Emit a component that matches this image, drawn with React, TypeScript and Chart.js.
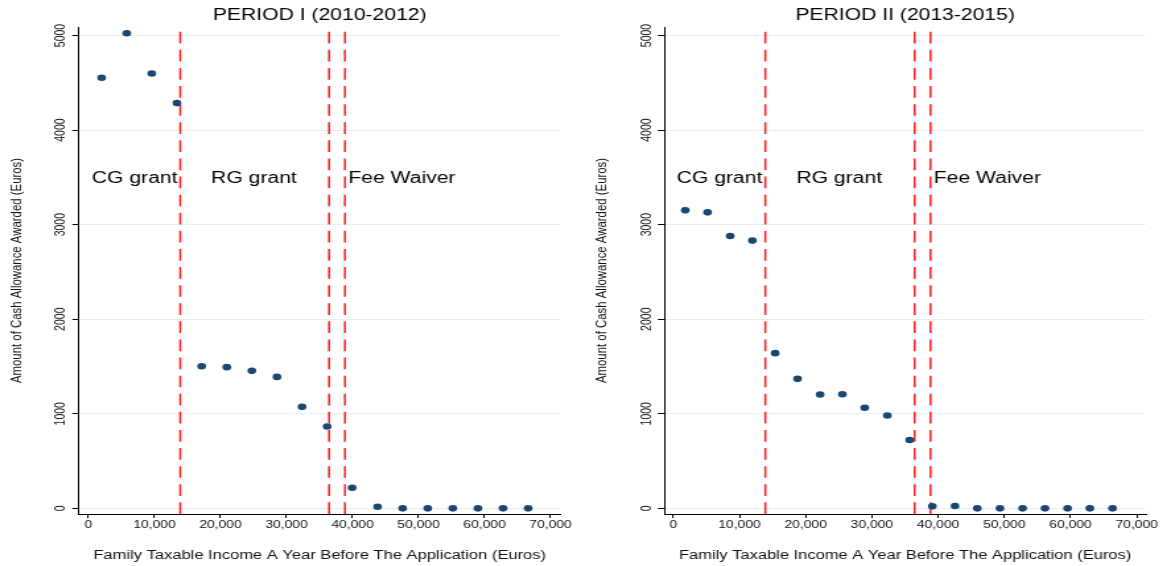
import React, { useEffect, useRef } from 'react';
import { Chart, registerables } from 'chart.js';

Chart.register(...registerables);

const FONT = "'Liberation Sans', Arial, Helvetica, sans-serif";

// ---------- data ----------
const period1Title = 'PERIOD I (2010-2012)';
const period1Income = [2000, 5800, 9600, 13400, 17150, 20950, 24750, 28550, 32350, 36150, 39950, 43800, 47600, 51400, 55200, 59000, 62800, 66600];
const period1Amount = [4553, 5024, 4598, 4285, 1503, 1493, 1454, 1390, 1073, 866, 218, 17, 0, 0, 0, 0, 0, 0];

const period2Title = 'PERIOD II (2013-2015)';
const period2Income = [1800, 5170, 8590, 11950, 15390, 18760, 22175, 25540, 28910, 32330, 35700, 39130, 42550, 45920, 49340, 52770, 56140, 59560, 62920, 66340];
const period2Amount = [3151, 3130, 2880, 2831, 1641, 1369, 1204, 1207, 1063, 982, 722, 21, 24, 0, 0, 0, 0, 0, 0, 0];

const thresholds = [13900, 36450, 38850];
const thresholdSpan = [5040, -60];

const regionLabels = ['CG grant', 'RG grant', 'Fee Waiver'];
const regionLabelX1 = [500, 18570, 39360];
const regionLabelX2 = [500, 18590, 39350];
const regionLabelY = 3489;

const yTicks = [0, 1000, 2000, 3000, 4000, 5000];
const xTicks = [0, 10000, 20000, 30000, 40000, 50000, 60000, 70000];

const xTitle = 'Family Taxable Income A Year Before The Application (Euros)';
const yTitle = 'Amount of Cash Allowance Awarded (Euros)';

// ---------- panel ----------
type PanelProps = {
  title: string;
  income: number[];
  amount: number[];
  labelX: number[];
  cssLeft: number;
  cssWidth: number;
  intWidth: number;
  yAxisWidth: number;
  padRight: number;
  xMin: number;
  xMax: number;
};

const regionTextPlugin = {
  id: 'regionText',
  afterDatasetsDraw(chart: any, _args: any, opts: any) {
    const { ctx, scales } = chart;
    ctx.save();
    ctx.font = `16px ${FONT}`;
    ctx.fillStyle = '#000';
    ctx.textAlign = 'left';
    ctx.textBaseline = 'middle';
    (opts.labels || []).forEach((t: string, i: number) => {
      const x = scales.x.getPixelForValue(opts.xs[i]);
      const y = scales.y.getPixelForValue(opts.y);
      ctx.fillText(t, x, y);
    });
    ctx.restore();
  },
};

function Panel(p: PanelProps) {
  const ref = useRef<HTMLCanvasElement | null>(null);
  useEffect(() => {
    if (!ref.current) return;
    const points = p.income.map((x, i) => ({ x, y: p.amount[i] }));
    const lineSets = thresholds.map((t) => ({
      type: 'scatter' as const,
      data: thresholdSpan.map((y) => ({ x: t, y })),
      showLine: true,
      borderColor: '#ff1a1a',
      borderWidth: 1.5,
      borderDash: [11.7, 6.4],
      pointRadius: 0,
      fill: false,
    }));
    const chart = new Chart(ref.current, {
      type: 'scatter',
      data: {
        datasets: [
          {
            data: points,
            backgroundColor: '#1a476f',
            borderColor: '#1a476f',
            borderWidth: 0,
            pointRadius: 3.3,
            pointHoverRadius: 3.3,
          },
          ...lineSets,
        ] as any,
      },
      options: {
        responsive: false,
        animation: false,
        devicePixelRatio: 1,
        events: [],
        layout: { padding: { left: 0, right: p.padRight, top: 0, bottom: 0 } },
        plugins: {
          legend: { display: false },
          tooltip: { enabled: false },
          title: {
            display: true,
            text: p.title,
            fullSize: false,
            color: '#000',
            font: { family: FONT, size: 16, weight: 'normal' },
            padding: { top: 6.2, bottom: 1.6 },
          },
          regionText: { labels: regionLabels, xs: p.labelX, y: regionLabelY },
        } as any,
        scales: {
          x: {
            type: 'linear',
            min: p.xMin,
            max: p.xMax,
            afterBuildTicks: (s: any) => {
              s.ticks = xTicks.map((v) => ({ value: v }));
            },
            afterFit: (s: any) => {
              s.height = 52;
            },
            grid: {
              drawOnChartArea: false,
              drawTicks: true,
              tickLength: 4,
              tickColor: '#000',
              color: '#000',
            },
            border: { display: true, color: '#000', width: 1 },
            ticks: {
              padding: 0.4,
              maxRotation: 0,
              autoSkip: false,
              color: '#111',
              font: { family: FONT, size: 10.5 },
              callback: (v: any) => Number(v).toLocaleString('en-US'),
            },
            title: {
              display: true,
              text: xTitle,
              color: '#111',
              font: { family: FONT, size: 12.5 },
              padding: { top: 0, bottom: 2.7 },
            },
          },
          y: {
            type: 'linear',
            min: -60,
            max: 5090,
            afterBuildTicks: (s: any) => {
              s.ticks = yTicks.map((v) => ({ value: v }));
            },
            afterFit: (s: any) => {
              s.width = p.yAxisWidth;
            },
            grid: {
              drawOnChartArea: true,
              drawTicks: true,
              tickLength: 5,
              color: '#e6eff1',
              tickColor: '#000',
              lineWidth: 1,
            },
            border: { display: true, color: '#000', width: 1 },
            ticks: {
              minRotation: 90,
              maxRotation: 90,
              crossAlign: 'center',
              padding: -3.3,
              autoSkip: false,
              color: '#111',
              font: { family: FONT, size: 10.5 },
              callback: (v: any) => String(v),
            },
            title: {
              display: true,
              text: yTitle,
              color: '#111',
              font: { family: FONT, size: 11.4 },
              padding: { top: 5.65, bottom: 0 },
            },
          },
        },
      } as any,
      plugins: [regionTextPlugin],
    });
    return () => chart.destroy();
  }, []);

  return (
    <canvas
      ref={ref}
      width={p.intWidth}
      height={566}
      style={{
        position: 'absolute',
        left: `${p.cssLeft}px`,
        top: 0,
        width: `${p.cssWidth}px`,
        height: '566px',
      }}
    />
  );
}

export default function App() {
  return (
    <div
      style={{
        position: 'fixed',
        left: 0,
        top: 0,
        width: '1167px',
        height: '566px',
        background: '#fff',
        overflow: 'hidden',
      }}
    >
      <Panel
        title={period1Title}
        income={period1Income}
        amount={period1Amount}
        labelX={regionLabelX1}
        cssLeft={0}
        cssWidth={585}
        intWidth={443}
        yAxisWidth={59.8}
        padRight={18.6}
        xMin={-1440}
        xMax={71500}
      />
      <Panel
        title={period2Title}
        income={period2Income}
        amount={period2Amount}
        labelX={regionLabelX2}
        cssLeft={585}
        cssWidth={582}
        intWidth={441}
        yAxisWidth={60.1}
        padRight={15.9}
        xMin={-1360}
        xMax={71405}
      />
    </div>
  );
}
